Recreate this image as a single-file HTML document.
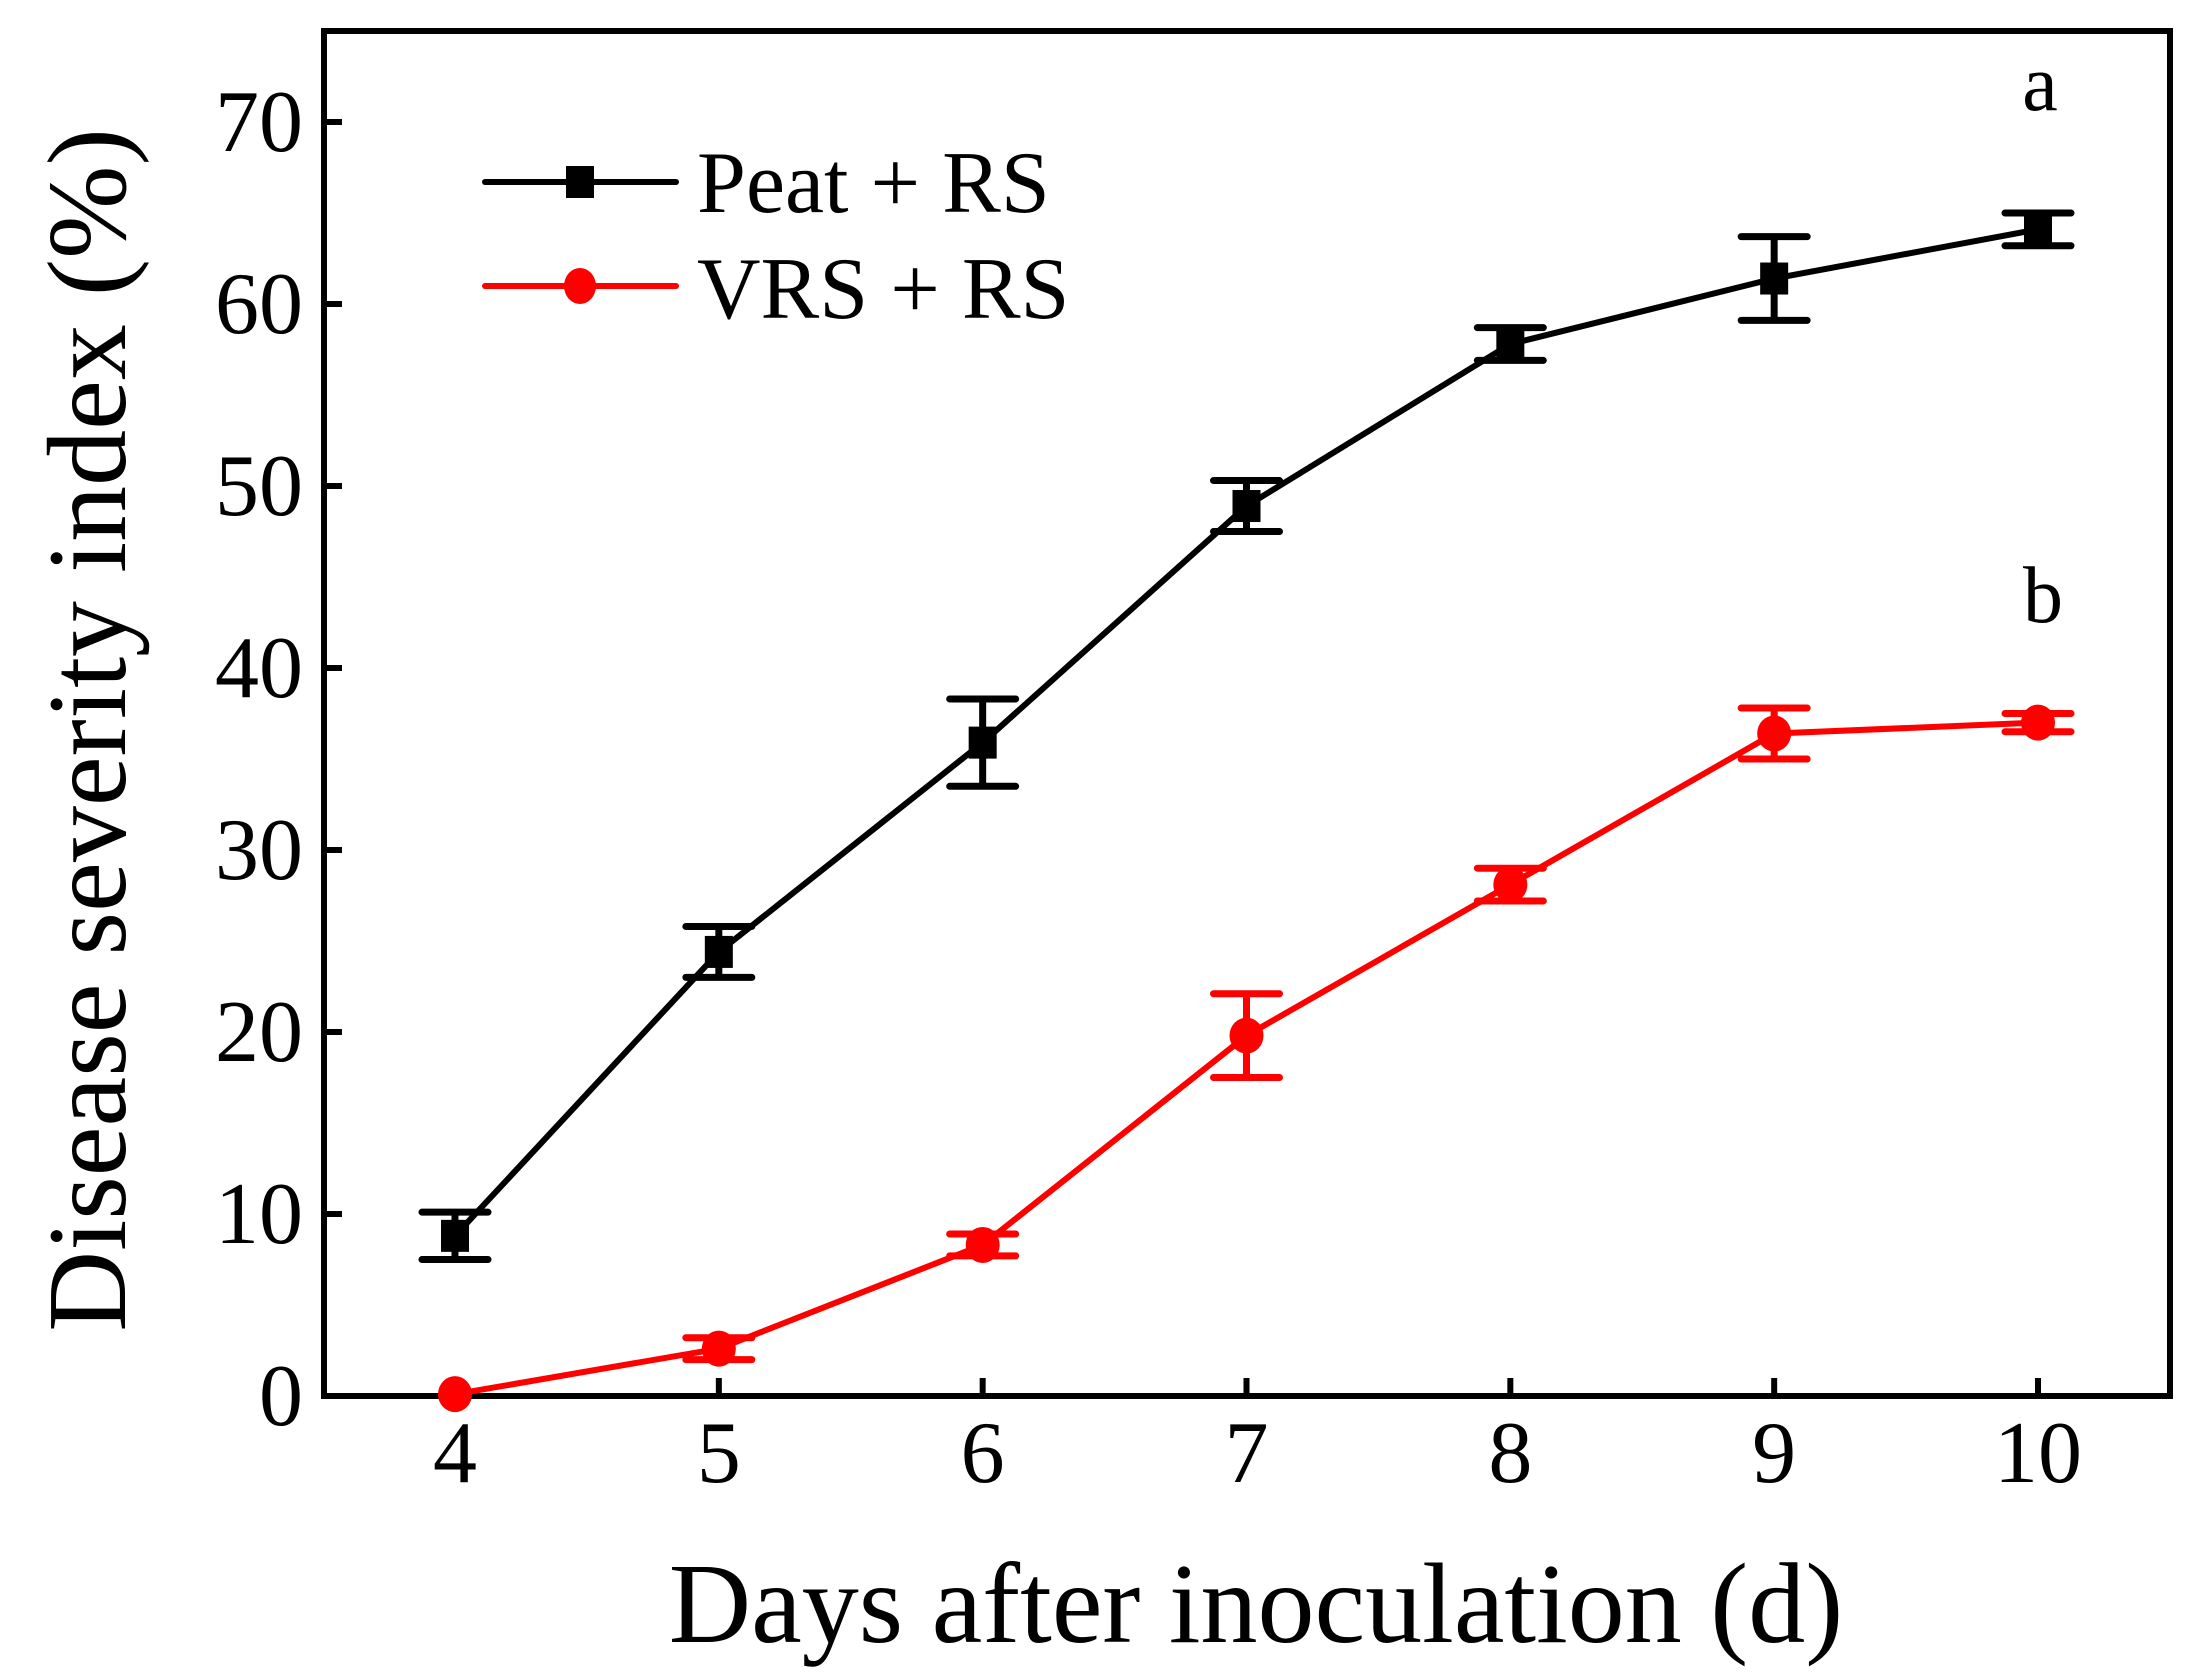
<!DOCTYPE html>
<html><head><meta charset="utf-8"><style>
html,body{margin:0;padding:0;background:#fff}
svg{display:block}
text{font-family:"Liberation Serif",serif;fill:#000}
</style></head><body>
<svg id="chart" width="2206" height="1679" viewBox="0 0 2206 1679" xmlns="http://www.w3.org/2000/svg">
<g id="axes"></g>
<g id="series"></g>
<g id="legend"></g>
<text x="1256" y="1642" font-size="114" text-anchor="middle">Days after inoculation (d)</text>
<text transform="translate(125,730) rotate(-90)" font-size="112" text-anchor="middle">Disease severity index (%)</text>
<text x="2040" y="110" font-size="80" text-anchor="middle">a</text>
<text x="2043" y="622" font-size="80" text-anchor="middle">b</text>
</svg>
<script>
const days = [4,5,6,7,8,9,10];
const peatValues = [8.8,24.4,35.9,48.9,57.8,61.4,64.1];
const peatErrors = [1.3,1.4,2.4,1.4,0.9,2.3,0.9];
const vrsValues = [0.1,2.6,8.3,19.8,28.1,36.4,37.0];
const vrsErrors = [0,0.6,0.6,2.3,0.9,1.4,0.5];
const yTicks = [0,10,20,30,40,50,60,70];
const xTicks = [4,5,6,7,8,9,10];

const NS='http://www.w3.org/2000/svg';
const L=324,R=2170,T=31,B=1396;
function xs(v){return 455+(v-4)*(2038-455)/6;}
function ys(v){return B-v*18.2;}
function mk(tag,attrs,parent){const e=document.createElementNS(NS,tag);for(const k in attrs)e.setAttribute(k,attrs[k]);parent.appendChild(e);return e;}
const axes=document.getElementById('axes');
const frame=mk('rect',{x:L,y:T,width:R-L,height:B-T,fill:'none',stroke:'#000','stroke-width':6},axes);


yTicks.forEach(v=>{
  const t=mk('line',{x1:L,x2:L+18,y1:ys(v),y2:ys(v),stroke:'#000','stroke-width':6},axes);
  
  
  const l=mk('text',{x:303,y:ys(v)+29,'font-size':88,'text-anchor':'end'},axes);
  l.textContent=v;
  
  
});
xTicks.forEach(v=>{
  const t=mk('line',{x1:xs(v),x2:xs(v),y1:B,y2:B-18,stroke:'#000','stroke-width':6},axes);
  
  
  const l=mk('text',{x:xs(v),y:1482,'font-size':88,'text-anchor':'middle'},axes);
  l.textContent=v;
  
  
});
const series=document.getElementById('series');
function drawSeries(vals,errs,color,shape,name){
  const g=mk('g',{},series);
  
  
  const pts=days.map((d,i)=>xs(d)+','+ys(vals[i])).join(' ');
  const pl=mk('polyline',{points:pts,fill:'none',stroke:color,'stroke-width':6,'stroke-linejoin':'round'},g);
  
  
  days.forEach((d,i)=>{
    const x=xs(d),y1=ys(vals[i]+errs[i]),y2=ys(vals[i]-errs[i]);
    if(errs[i]>0){
      const eb=mk('path',{d:`M${x},${y1}V${y2}M${x-33},${y1}H${x+33}M${x-33},${y2}H${x+33}`,stroke:color,'stroke-width':7,'stroke-linecap':'round',fill:'none'},g);
      
      
    }
    let m;
    if(shape==='square') m=mk('rect',{x:x-14,y:ys(vals[i])-16,width:28,height:32,fill:color},g);
    else m=mk('ellipse',{cx:x,cy:ys(vals[i]),rx:17,ry:18,fill:color},g);
    
    
  });
}
drawSeries(peatValues,peatErrors,'#000','square','peat-rs');
drawSeries(vrsValues,vrsErrors,'#ff0000','circle','vrs-rs');
const legend=document.getElementById('legend');
[['Peat + RS','#000','square',182,212],['VRS + RS','#ff0000','circle',286,318]].forEach(([lab,c,s,y,by])=>{
  const g=mk('g',{},legend);
  
  
  mk('line',{x1:485,x2:676,y1:y,y2:y,stroke:c,'stroke-width':6,'stroke-linecap':'round'},g);
  if(s==='square') mk('rect',{x:566,y:y-16,width:28,height:32,fill:c},g);
  else mk('ellipse',{cx:580,cy:y,rx:16,ry:18,fill:c},g);
  const t=mk('text',{x:697,y:by,'font-size':88},g);
  t.textContent=lab;
});
</script>
</body></html>
